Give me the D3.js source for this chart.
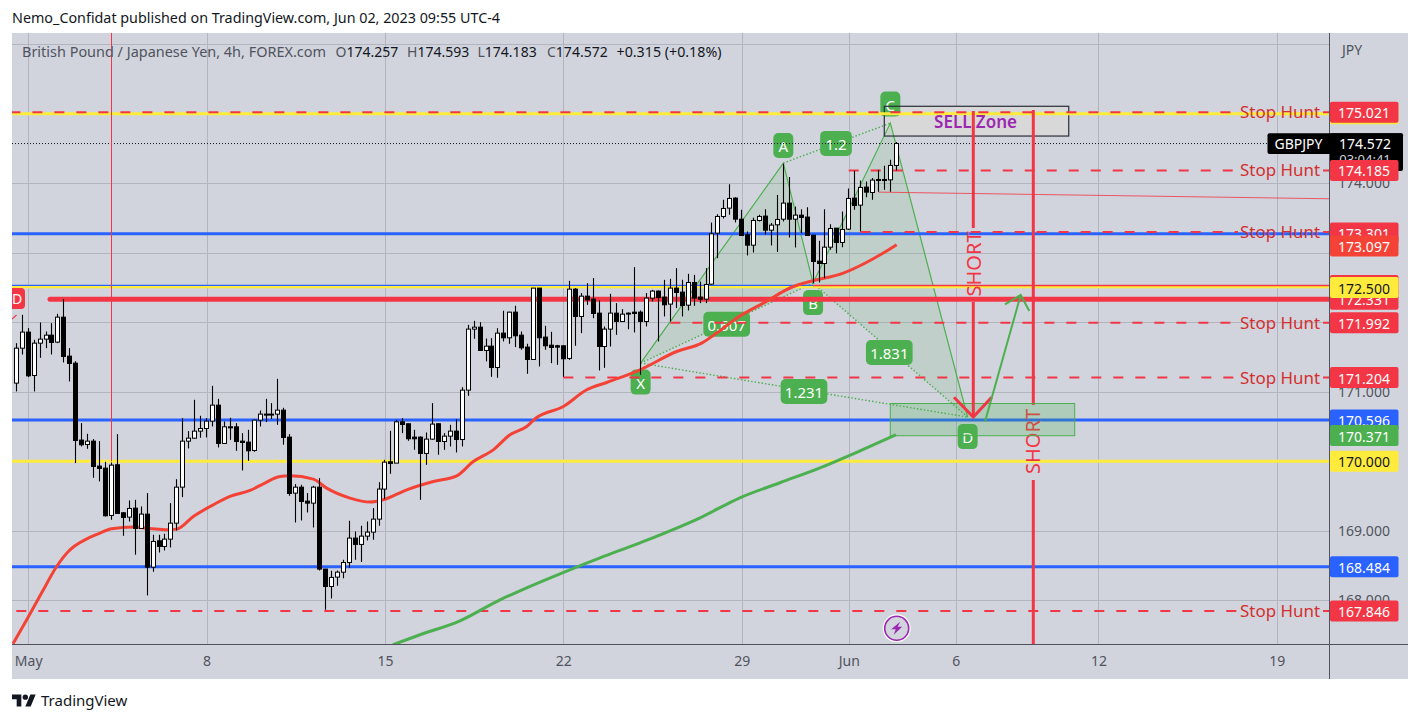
<!DOCTYPE html>
<html><head><meta charset="utf-8">
<style>
html,body{margin:0;padding:0;background:#fff}
svg{display:block}
text{font-family:"Noto Sans",sans-serif}
</style>
<script src="https://cdn.jsdelivr.net/npm/d3@7"></script>
</head><body><div id="chart"></div>
<script>
const opens=[171.125,171.628,171.859,171.235,171.700,171.758,171.815,171.715,172.074,171.513,171.412,170.305,170.242,170.290,169.931,169.902,169.221,169.950,169.259,169.197,169.326,169.034,169.240,168.477,168.856,168.775,168.880,169.110,169.628,170.290,170.333,170.434,170.472,170.578,170.808,170.257,170.496,170.496,170.290,170.276,170.156,170.592,170.679,170.674,170.679,170.736,170.348,169.542,169.628,169.427,169.398,169.628,168.449,168.199,168.334,168.405,168.544,168.895,168.804,168.923,168.981,169.168,169.600,169.993,169.974,170.568,170.540,170.348,170.348,170.113,170.319,170.540,170.285,170.362,170.434,170.314,171.024,171.902,171.930,171.595,171.657,171.350,171.844,171.777,172.146,171.815,171.643,171.465,172.492,171.787,171.671,171.662,171.662,171.480,172.477,172.084,172.376,172.333,172.132,171.652,171.902,172.132,172.012,172.122,172.146,172.146,172.012,172.348,172.449,172.362,172.262,172.492,172.434,172.247,172.573,172.362,172.333,172.549,173.283,173.523,173.643,173.787,173.484,173.259,173.110,173.465,173.528,173.326,173.403,173.484,173.715,173.484,173.542,173.514,173.254,172.880,172.846,173.081,173.355,173.149,173.341,173.787,173.686,173.945,173.868,174.041,174.055,174.050,174.257];
const highs=[171.700,172.108,171.916,171.748,171.998,171.868,171.988,172.122,172.333,171.628,171.441,170.549,170.396,170.319,170.290,169.993,169.983,170.391,169.269,169.437,169.446,169.350,169.542,168.943,168.943,168.957,169.398,169.743,170.621,170.434,170.885,170.655,170.621,171.086,170.899,170.573,170.626,170.549,170.405,170.453,170.597,170.731,170.899,170.837,171.187,170.770,170.391,169.672,169.662,169.542,169.648,169.758,168.449,168.425,168.430,168.583,169.144,168.991,169.072,169.134,169.326,169.700,170.022,170.439,170.597,170.621,170.540,170.453,170.358,170.415,170.837,170.549,170.405,170.525,170.606,171.067,171.964,172.021,172.002,171.767,171.772,171.916,172.166,172.151,172.238,171.868,171.691,172.492,172.492,171.950,171.863,171.676,171.662,172.597,172.492,172.420,172.563,172.636,172.314,171.940,172.410,172.276,172.189,172.142,172.794,172.170,172.420,172.467,172.458,172.611,172.626,172.779,172.612,172.698,172.683,172.587,172.779,173.436,173.556,173.762,173.988,173.801,173.619,173.307,173.504,173.547,173.628,173.427,173.830,174.281,174.089,173.667,173.628,173.657,173.254,173.173,173.628,173.412,173.355,173.595,173.926,174.180,174.041,174.026,174.075,174.194,174.252,174.338,174.593];
const lows=[171.005,171.537,171.211,171.005,171.489,171.628,171.537,171.700,171.422,171.149,169.974,170.214,170.180,169.763,169.710,169.207,169.158,169.240,168.928,169.135,168.655,169.034,168.070,168.410,168.688,168.717,168.760,169.005,169.484,170.185,170.328,170.338,170.343,170.501,170.199,170.257,170.309,170.151,169.868,170.007,170.137,170.501,170.564,170.607,170.525,170.238,169.504,169.120,169.149,169.264,169.048,168.430,167.863,168.027,168.209,168.319,168.470,168.583,168.550,168.861,168.871,169.072,169.456,169.820,169.974,170.405,170.295,170.165,169.446,169.950,170.310,170.094,170.165,170.213,170.127,170.213,170.942,171.763,171.595,171.437,171.216,171.202,171.724,171.691,171.643,171.605,171.259,171.460,171.365,171.605,171.412,171.388,171.216,171.460,171.662,171.844,172.252,172.060,171.307,171.345,171.652,171.820,172.012,171.900,171.854,171.245,171.940,172.300,171.724,172.084,172.012,172.204,172.084,172.170,172.237,172.276,172.276,172.540,172.923,173.494,173.547,173.436,173.249,172.962,173.005,173.450,173.264,173.105,173.010,173.450,173.221,173.077,173.283,173.249,172.563,172.573,172.635,173.043,172.995,173.081,173.331,173.619,173.307,173.801,173.762,173.878,173.906,173.878,174.183];
const closes=[171.628,171.859,171.230,171.700,171.758,171.815,171.710,172.074,171.508,171.408,170.300,170.238,170.290,169.926,169.897,169.216,169.945,169.250,169.192,169.322,169.034,169.240,168.477,168.847,168.775,168.880,169.110,169.628,170.290,170.333,170.434,170.472,170.578,170.808,170.257,170.496,170.487,170.285,170.271,170.151,170.592,170.679,170.674,170.679,170.736,170.343,169.537,169.628,169.422,169.398,169.628,168.449,168.199,168.329,168.405,168.544,168.895,168.804,168.923,168.981,169.168,169.600,169.988,169.969,170.568,170.530,170.324,170.324,170.113,170.319,170.535,170.285,170.362,170.434,170.314,171.024,171.902,171.930,171.595,171.657,171.350,171.844,171.777,172.146,171.806,171.633,171.465,172.492,171.777,171.662,171.638,171.643,171.475,172.477,172.084,172.376,172.324,172.127,171.652,171.902,172.132,172.012,172.117,172.132,172.127,172.012,172.348,172.449,172.357,172.252,172.492,172.429,172.242,172.573,172.348,172.333,172.544,173.273,173.523,173.638,173.782,173.484,173.249,173.110,173.465,173.523,173.326,173.398,173.480,173.715,173.484,173.542,173.509,173.249,172.875,172.846,173.081,173.350,173.149,173.336,173.782,173.681,173.940,173.873,174.046,174.055,174.041,174.257,174.572];

const redMaBars=[-0.55,1.75,4.27,6.79,8.75,9.87,12.11,14.08,16.04,19.68,22.49,25.29,26.98,29.77,33.13,35.94,39.3,41.54,44.35,46.03,49.95,52.2,56.12,59.5,61.7,65.66,70.13,74.07,76.86,80.22,83.03,85.84,87.52,92,95.93,99.3,104.9,111.07,115.27,117.8,121.15,125.63,130.68,133.48,139.09,145.81,148.06];
const redMaVals=[167.374,167.719,168.108,168.486,168.702,168.784,168.895,168.967,169.029,169.053,169.033,169.014,169.024,169.206,169.374,169.494,169.58,169.676,169.781,169.791,169.744,169.614,169.471,169.413,169.446,169.59,169.709,169.791,169.997,170.165,170.381,170.501,170.63,170.788,171.029,171.134,171.317,171.58,171.701,171.845,172.06,172.276,172.515,172.587,172.708,172.996,173.115];
const greenMaBars=[63.35,67.9,74.62,81.35,84.7,91.44,98.16,104.9,115,121.7,128.43,135.16,141.89,147.94];
const greenMaVals=[167.36,167.504,167.705,168.007,168.137,168.381,168.611,168.827,169.187,169.475,169.691,169.906,170.151,170.381];

const gridPrices=[176,175,174,173,172,171,170,169,168];
const priceTicks=[174,171,169,168];
const timeBars=[2,32,62,92,122,140,158,182,212];
const timeLabels=["May","8","15","22","29","Jun","6","12","19"];

const yellowLevels=[175,172.51,170];
const blueLevels=[173.273,170.596,168.484];
const stopPrices=[175.021,174.185,173.301,171.992,171.204,167.846];
const stopStartBars=[-1,140,142,110,92,0];
const thickRedPrice=172.331, thickRedStartBar=5.67;
const ray=172.53, rayBar=134;
const trend={bars:[145,240.8],vals:[173.873,173.752]};

const patLetters=["X","A","B","C","D"];
const patBars=[105,129,134,147,160];
const patVals=[171.413,174.291,172.564,174.866,170.636];
const ratioLabels=["0.607","1.2","1.831","1.231"];

const backFills=["#ffeb3b","#f23645"], backPrices=[175,172.53];
const badgeLabels=["175.021","174.185","173.301","173.097","172.331","172.500","171.992","171.204","170.596","170.371","170.000","168.484","167.846"];
const badgePrices=[175.021,174.185,173.285,173.097,172.331,172.5,171.992,171.204,170.596,170.371,170,168.484,167.846];
const badgeFills=["#f23645","#f23645","#f23645","#f44336","#f23645","#ffeb3b","#f23645","#f23645","#2962ff","#4caf50","#ffeb3b","#2962ff","#f23645"];

const W=1420,H=722,L=12,R=1408,T=33,B=679,PR=1329.5,PB=644.5;
const GRID="#b2b5be",RED="#f23645",GREEN="#4caf50",YEL="#ffeb3b",BLUE="#2962ff",AX="#50535e";

const x=d3.scaleLinear().domain([0,148]).range([16.3,896.3]);
const y=d3.scaleLinear().domain([168,174]).range([600.3,183.3]);
const bars=d3.range(opens.length);

const svg=d3.select("#chart").append("svg").attr("width",W).attr("height",H);
svg.append("rect").attr("x",L).attr("y",T).attr("width",R-L).attr("height",B-T).attr("fill","#d1d4dc");
svg.append("clipPath").attr("id","pane").append("rect").attr("x",L).attr("y",T).attr("width",PR-L).attr("height",PB-T);

// header
svg.append("text").attr("x",12).attr("y",23).attr("font-size",14).attr("fill","#131722")
  .attr("textLength",488).attr("lengthAdjust","spacingAndGlyphs")
  .text("Nemo_Confidat published on TradingView.com, Jun 02, 2023 09:55 UTC-4");

// grid
const grid=svg.append("g");
grid.selectAll("line.h").data(gridPrices).join("line").attr("x1",L).attr("x2",PR)
  .attr("y1",d=>Math.round(y(d))+.5).attr("y2",d=>Math.round(y(d))+.5).attr("stroke",GRID);
grid.selectAll("line.v").data(timeBars).join("line").attr("y1",T).attr("y2",PB)
  .attr("x1",d=>Math.round(x(d))+.5).attr("x2",d=>Math.round(x(d))+.5).attr("stroke",GRID);

const p=svg.append("g").attr("clip-path","url(#pane)");

// sell zone fill
const sell={b0:145.98,b1:177,v0:175.108,v1:174.68};
p.append("rect").attr("x",x(sell.b0)).attr("width",x(sell.b1)-x(sell.b0)).attr("y",y(sell.v0)).attr("height",y(sell.v1)-y(sell.v0)).attr("fill","#d8d8d8");

// harmonic pattern
const pt=i=>[x(patBars[i]),y(patVals[i])];
const line=d3.line();
p.append("path").attr("d",line([pt(0),pt(1),pt(2)])+"Z").attr("fill",GREEN).attr("fill-opacity",.13);
p.append("path").attr("d",line([pt(2),pt(3),pt(4)])+"Z").attr("fill",GREEN).attr("fill-opacity",.13);
p.append("path").attr("d",line([pt(0),pt(1),pt(2),pt(3),pt(4)])).attr("fill","none").attr("stroke",GREEN).attr("stroke-width",1.2);
[[0,2],[1,3],[2,4],[0,4]].forEach(([a,b])=>p.append("line").attr("x1",pt(a)[0]).attr("y1",pt(a)[1]).attr("x2",pt(b)[0]).attr("y2",pt(b)[1])
  .attr("stroke",GREEN).attr("stroke-width",1.4).attr("stroke-dasharray","1.5 2"));

function badge(g,cx,cy,w,h,txt,fs){
  g.append("rect").attr("x",cx-w/2).attr("y",cy-h/2).attr("width",w).attr("height",h).attr("rx",5).attr("fill",GREEN);
  g.append("text").attr("x",cx).attr("y",cy+.5).attr("text-anchor","middle").attr("dominant-baseline","central").attr("font-size",fs||15).attr("fill","#fff").text(txt);
}
const letterDy=[19,-17.5,19.5,-19,19.5];
patLetters.forEach((t,i)=>badge(p,pt(i)[0],pt(i)[1]+letterDy[i],20,25,t));
badge(p,726.7,324.2,46.7,25,ratioLabels[0]);
badge(p,836,143.4,31.7,25,ratioLabels[1]);
badge(p,889.3,352.5,46.7,25,ratioLabels[2]);
badge(p,804,391.5,46.7,25,ratioLabels[3]);

// sell zone outline
p.append("rect").attr("x",x(sell.b0)).attr("width",x(sell.b1)-x(sell.b0)).attr("y",y(sell.v0)).attr("height",y(sell.v1)-y(sell.v0)).attr("fill","none").attr("stroke","#2a2e39").attr("stroke-width",1.2);

// levels
yellowLevels.forEach(v=>p.append("line").attr("x1",L).attr("x2",PR).attr("y1",y(v)).attr("y2",y(v)).attr("stroke",YEL).attr("stroke-width",3));
blueLevels.forEach(v=>p.append("line").attr("x1",L).attr("x2",PR).attr("y1",y(v)).attr("y2",y(v)).attr("stroke",BLUE).attr("stroke-width",3));
p.append("line").attr("x1",L).attr("x2",x(rayBar)).attr("y1",y(ray)).attr("y2",y(ray)).attr("stroke",BLUE).attr("stroke-width",1.2);
p.append("line").attr("x1",x(rayBar)).attr("x2",PR).attr("y1",y(ray)).attr("y2",y(ray)).attr("stroke",RED).attr("stroke-width",1.6);
p.append("line").attr("x1",x(thickRedStartBar)).attr("x2",PR).attr("y1",y(thickRedPrice)).attr("y2",y(thickRedPrice)).attr("stroke",RED).attr("stroke-width",5).attr("stroke-linecap","round");
stopPrices.forEach((v,i)=>{
  p.append("line").attr("x1",x(stopStartBars[i])).attr("x2",1238).attr("y1",y(v)).attr("y2",y(v)).attr("stroke",RED).attr("stroke-width",2).attr("stroke-dasharray","10 12");
  p.append("line").attr("x1",1323).attr("x2",PR).attr("y1",y(v)).attr("y2",y(v)).attr("stroke",RED).attr("stroke-width",2);
});
p.append("line").attr("x1",x(trend.bars[0])).attr("x2",x(trend.bars[1])).attr("y1",y(trend.vals[0])).attr("y2",y(trend.vals[1])).attr("stroke",RED).attr("stroke-width",1).attr("stroke-opacity",.8);
p.append("line").attr("x1",L).attr("x2",PR).attr("y1",y(174.572)).attr("y2",y(174.572)).attr("stroke","#131722").attr("stroke-dasharray","1 2");

// vertical markers
p.append("line").attr("x1",Math.round(x(16))+.5).attr("x2",Math.round(x(16))+.5).attr("y1",T).attr("y2",y(170)).attr("stroke",RED).attr("stroke-width",1);
p.append("rect").attr("x",6).attr("y",288).attr("width",19).attr("height",21).attr("rx",4).attr("fill",RED);
p.append("text").attr("x",17).attr("y",298.5).attr("text-anchor","middle").attr("dominant-baseline","central").attr("font-size",14).attr("fill","#fff").text("D");
p.append("line").attr("x1",12).attr("x2",16.5).attr("y1",319).attr("y2",315).attr("stroke",RED).attr("stroke-width",1.2);

function vert(xp,y0,y1){p.append("line").attr("x1",xp).attr("x2",xp).attr("y1",y0).attr("y2",y1).attr("stroke",RED).attr("stroke-width",3);}
function shortText(cx,cy){p.append("text").attr("transform",`translate(${cx},${cy}) rotate(-90)`).attr("text-anchor","middle").attr("dominant-baseline","central").attr("font-size",20).attr("fill",RED).text("SHORT");}
vert(1033.3,110,405); vert(1033.3,480,PB); shortText(1032,441.5);

// demand box
p.append("rect").attr("x",890.3).attr("y",403.5).attr("width",184.4).attr("height",32.2).attr("fill",GREEN).attr("fill-opacity",.25).attr("stroke",GREEN).attr("stroke-width",1);

vert(973.3,111,228); vert(973.3,302,417); shortText(973,264);
p.append("path").attr("d",line([[954,397.3],[973.3,417],[991.7,397.3]])).attr("fill","none").attr("stroke",RED).attr("stroke-width",3);
p.append("path").attr("d",line([[985,421.7],[1020.7,295]])).attr("fill","none").attr("stroke",GREEN).attr("stroke-width",2);
p.append("path").attr("d",line([[1005,304.3],[1020.7,295],[1029.3,311]])).attr("fill","none").attr("stroke",GREEN).attr("stroke-width",2);

// moving averages
const maLine=d3.line().x(d=>x(d[0])).y(d=>y(d[1])).curve(d3.curveMonotoneX);
p.append("path").attr("d",maLine(greenMaBars.map((b,i)=>[b,greenMaVals[i]]))).attr("fill","none").attr("stroke",GREEN).attr("stroke-width",3);
p.append("path").attr("d",maLine(redMaBars.map((b,i)=>[b,redMaVals[i]]))).attr("fill","none").attr("stroke","#f44336").attr("stroke-width",3);

// candles
const cg=p.append("g");
const cx=i=>Math.round(x(i)-.5)+.5;
cg.selectAll("line").data(bars).join("line").attr("x1",cx).attr("x2",cx)
  .attr("y1",i=>y(highs[i])).attr("y2",i=>y(lows[i])).attr("stroke","#000").attr("stroke-width",1.1);
cg.selectAll("rect").data(bars).join("rect").attr("x",i=>cx(i)-2).attr("width",4)
  .attr("y",i=>y(Math.max(opens[i],closes[i])))
  .attr("height",i=>Math.max(1,Math.abs(y(opens[i])-y(closes[i]))))
  .attr("fill",i=>closes[i]>=opens[i]?"#fff":"#000").attr("stroke","#000").attr("stroke-width",1);

// texts on the pane
p.append("text").attr("x",975.5).attr("y",121).attr("text-anchor","middle").attr("dominant-baseline","central").attr("font-size",17).attr("font-weight",600).attr("fill","#9c27b0").text("SELL Zone");
stopPrices.forEach(v=>p.append("text").attr("x",1280).attr("y",y(v)-.5).attr("text-anchor","middle").attr("dominant-baseline","central").attr("font-size",16.5).attr("fill","#d32f2f").attr("textLength",80).attr("lengthAdjust","spacingAndGlyphs").text("Stop Hunt"));

// lightning icon
const ic=p.append("g").attr("transform","translate(896.7,628.3)");
ic.append("circle").attr("r",14).attr("fill","#fff");
ic.append("circle").attr("r",12).attr("fill","#d1d4dc").attr("stroke","#9c27b0").attr("stroke-width",1.6);
ic.append("path").attr("d",line([[3.5,-6.5],[-5.5,1],[-1,1],[-3,6.5],[5.5,-1.5],[1,-1.5]])+"Z").attr("fill","#9c27b0");

// axes
const yAxis=d3.axisRight(y).tickValues(priceTicks).tickSize(0).tickPadding(0).tickFormat(d3.format(".3f"));
const gy=svg.append("g").attr("transform",`translate(1364,0)`).call(yAxis);
gy.select(".domain").remove();
gy.selectAll("text").attr("text-anchor","middle").attr("x",0).attr("font-size",14).attr("font-family",'"Noto Sans",sans-serif').attr("fill",AX);
const xAxis=d3.axisBottom(x).tickValues(timeBars).tickSize(0).tickPadding(0).tickFormat((d,i)=>timeLabels[i]);
const gx=svg.append("g").attr("transform",`translate(0,${PB})`).call(xAxis);
gx.select(".domain").remove();
gx.selectAll("text").attr("y",12).attr("font-size",14).attr("font-family",'"Noto Sans",sans-serif').attr("fill",AX);
svg.append("line").attr("x1",PR).attr("x2",PR).attr("y1",T).attr("y2",B).attr("stroke",AX);
svg.append("line").attr("x1",L).attr("x2",R).attr("y1",PB).attr("y2",PB).attr("stroke",AX);
svg.append("text").attr("x",1352).attr("y",55).attr("text-anchor","middle").attr("font-size",14).attr("fill",AX).text("JPY");

// legend
svg.append("text").attr("x",22).attr("y",57).attr("font-size",14).attr("fill",AX).attr("textLength",304).attr("lengthAdjust","spacingAndGlyphs").text("British Pound / Japanese Yen, 4h, FOREX.com");
const ohlcKeys=["O","H","L","C"], ohlcVals=[opens[148],highs[148],lows[148],closes[148]], ohlcX=[335.5,407,477.5,547];
ohlcKeys.forEach((k,i)=>{
  const t=svg.append("text").attr("x",ohlcX[i]).attr("y",57).attr("font-size",14).attr("fill",AX).text(k);
  t.append("tspan").attr("fill","#131722").text(ohlcVals[i].toFixed(3));
});
svg.append("text").attr("x",616.5).attr("y",57).attr("font-size",14).attr("fill","#131722").attr("textLength",105).attr("lengthAdjust","spacingAndGlyphs").text("+0.315 (+0.18%)");

// current price label
svg.append("rect").attr("x",1267.5).attr("y",133.3).attr("width",135.5).attr("height",20.7).attr("rx",2).attr("fill","#000");
svg.append("rect").attr("x",1330).attr("y",133.3).attr("width",73).attr("height",37.7).attr("rx",2).attr("fill","#000");
svg.append("text").attr("x",1298.5).attr("y",143.8).attr("text-anchor","middle").attr("dominant-baseline","central").attr("font-size",14).attr("fill","#fff").text("GBPJPY");
svg.append("text").attr("x",1365).attr("y",143.3).attr("text-anchor","middle").attr("dominant-baseline","central").attr("font-size",14).attr("fill","#fff").text("174.572");
svg.append("text").attr("x",1365).attr("y",159).attr("text-anchor","middle").attr("dominant-baseline","central").attr("font-size",13).attr("fill","#d1d4dc").text("03:04:41");

// price badges
backFills.forEach((f,i)=>svg.append("rect").attr("x",1330).attr("y",y(backPrices[i])-10.5).attr("width",68.5).attr("height",21).attr("rx",2).attr("fill",f));
badgeLabels.forEach((t,i)=>{
  const yy=y(badgePrices[i]);
  svg.append("rect").attr("x",1330).attr("y",yy-10.5).attr("width",68.5).attr("height",21).attr("rx",2).attr("fill",badgeFills[i]);
  svg.append("text").attr("x",1364).attr("y",yy+.5).attr("text-anchor","middle").attr("dominant-baseline","central").attr("font-size",14)
    .attr("fill",badgeFills[i]===YEL?"#131722":"#fff").text(t);
});

// logo
const lg=svg.append("g").attr("transform","translate(12,692.5) scale(.667)");
lg.append("path").attr("d","M14 21H7V10H0V3h14v18zM28 21h-8L27.5 3h8L28 21z").attr("fill","#131722");
lg.append("circle").attr("cx",20).attr("cy",7).attr("r",4).attr("fill","#131722");
svg.append("text").attr("x",41).attr("y",706).attr("font-size",15).attr("fill","#131722").text("TradingView");
</script></body></html>
